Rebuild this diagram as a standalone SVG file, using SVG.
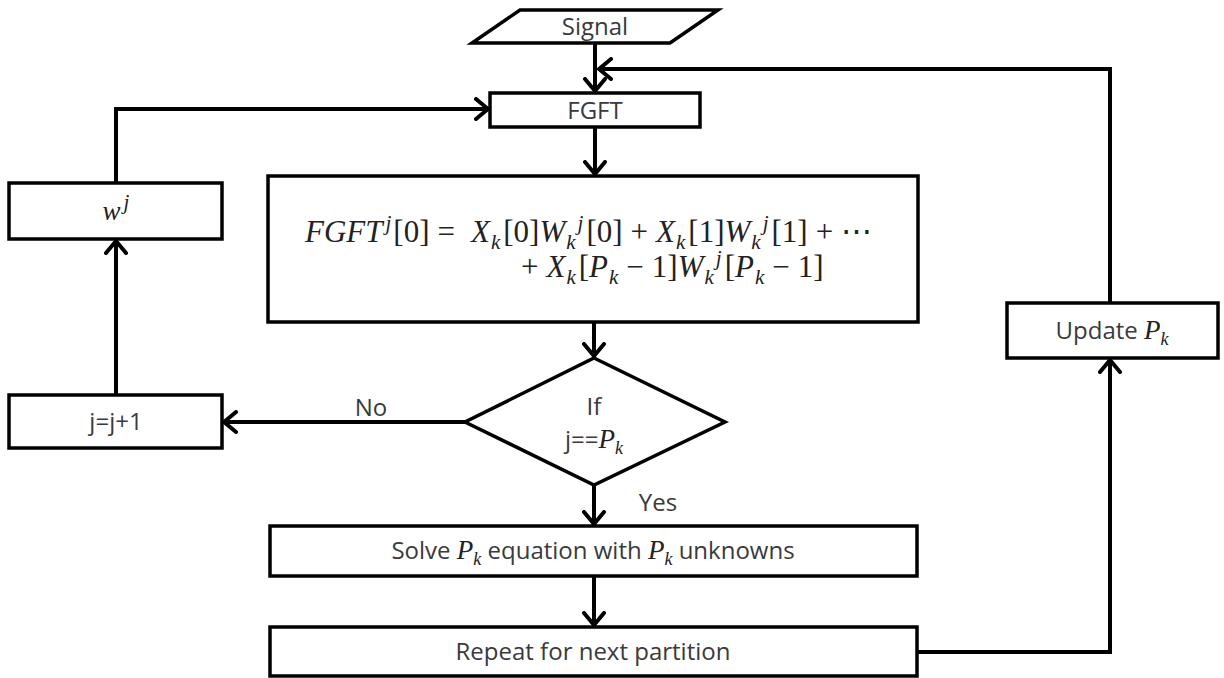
<svg xmlns="http://www.w3.org/2000/svg" width="1224" height="678" viewBox="0 0 1224 678">
<defs>
<marker id="arr" viewBox="0 0 16 24" refX="14" refY="12" markerWidth="16" markerHeight="24" markerUnits="userSpaceOnUse" orient="auto">
<path d="M2,2 L14,12 L2,22" fill="none" stroke="#000" stroke-width="4" stroke-linecap="round" stroke-linejoin="round"/>
</marker>
<style>
.box{fill:#fff;stroke:#000;stroke-width:3.5}
.con{fill:none;stroke:#000;stroke-width:4}
.t{font-family:"Open Sans","Liberation Sans",sans-serif;font-size:24px;fill:#3a3a3a;text-anchor:middle}
.m{font-family:"Liberation Serif","DejaVu Serif",serif;font-size:31px;fill:#222}
.i{font-style:italic}
.s{font-size:21px;font-style:italic}
.mi{font-family:"Liberation Serif","DejaVu Serif",serif;font-style:italic;font-size:27px;fill:#222}
.ms{font-family:"Liberation Serif","DejaVu Serif",serif;font-style:italic;font-size:18px;fill:#222}
</style>
</defs>
<rect width="1224" height="678" fill="#fff"/>
<g id="connectors">
<path class="con" d="M595,43 V91" marker-end="url(#arr)"/>
<path class="con" d="M1110,303 V69 H599" marker-end="url(#arr)"/>
<path class="con" d="M595,127 V174" marker-end="url(#arr)"/>
<path class="con" d="M594,322 V356" marker-end="url(#arr)"/>
<path class="con" d="M465,422 H224" marker-end="url(#arr)"/>
<path class="con" d="M116,395 V241" marker-end="url(#arr)"/>
<path class="con" d="M116,183 V109 H488" marker-end="url(#arr)"/>
<path class="con" d="M594,485 V524" marker-end="url(#arr)"/>
<path class="con" d="M594,576 V625" marker-end="url(#arr)"/>
<path class="con" d="M917,652 H1110 V360" marker-end="url(#arr)"/>
</g>
<g id="signal">
<polygon class="box" points="520,10 718,10 670,43 472,43"/>
<text class="t" x="595" y="35">Signal</text>
</g>
<g id="fgft">
<rect class="box" x="490" y="93" width="210" height="34"/>
<text class="t" x="595" y="119">FGFT</text>
</g>
<g id="formula">
<rect class="box" x="268" y="176" width="650" height="146"/>
<text class="m" x="305" y="242"><tspan class="i">FGFT</tspan><tspan class="s" dx="3" dy="-12">j</tspan><tspan dx="2" dy="12">[0]</tspan><tspan dx="8">=</tspan><tspan dx="16" class="i">X</tspan><tspan class="s" dx="1" dy="7">k</tspan><tspan dx="3" dy="-7">[0]</tspan><tspan class="i">W</tspan><tspan class="s" dx="1" dy="7">k</tspan><tspan class="s" dx="2" dy="-19">j</tspan><tspan dx="3" dy="12">[0]</tspan><tspan dx="8">+</tspan><tspan dx="8" class="i">X</tspan><tspan class="s" dx="1" dy="7">k</tspan><tspan dx="3" dy="-7">[1]</tspan><tspan class="i">W</tspan><tspan class="s" dx="1" dy="7">k</tspan><tspan class="s" dx="2" dy="-19">j</tspan><tspan dx="3" dy="12">[1]</tspan><tspan dx="8">+</tspan><tspan dx="8">⋯</tspan></text>
<text class="m" x="521" y="277"><tspan>+</tspan><tspan dx="8" class="i">X</tspan><tspan class="s" dx="1" dy="7">k</tspan><tspan dx="3" dy="-7">[</tspan><tspan class="i">P</tspan><tspan class="s" dx="1" dy="7">k</tspan><tspan dx="8" dy="-7">−</tspan><tspan dx="8">1]</tspan><tspan class="i">W</tspan><tspan class="s" dx="1" dy="7">k</tspan><tspan class="s" dx="2" dy="-19">j</tspan><tspan dx="3" dy="12">[</tspan><tspan class="i">P</tspan><tspan class="s" dx="1" dy="7">k</tspan><tspan dx="8" dy="-7">−</tspan><tspan dx="8">1]</tspan></text>
</g>
<g id="wj">
<rect class="box" x="9" y="183" width="213" height="56"/>
<text class="mi" x="116" y="220" text-anchor="middle">w<tspan class="s" dx="3" dy="-11">j</tspan></text>
</g>
<g id="jinc">
<rect class="box" x="9" y="395" width="213" height="53"/>
<text class="t" x="116" y="430">j=j+1</text>
</g>
<g id="decision">
<polygon class="box" points="594,358 725,422 594,485 465,422"/>
<text class="t" x="594" y="415">If</text>
<text class="t" x="594" y="448">j==<tspan class="mi">P</tspan><tspan class="ms" dy="6">k</tspan></text>
</g>
<g id="labels">
<text class="t" x="371" y="416">No</text>
<text class="t" x="658" y="511">Yes</text>
</g>
<g id="solve">
<rect class="box" x="270" y="526" width="647" height="50"/>
<text class="t" x="593" y="559">Solve <tspan class="mi">P</tspan><tspan class="ms" dy="6">k</tspan><tspan dy="-6"> equation with </tspan><tspan class="mi">P</tspan><tspan class="ms" dy="6">k</tspan><tspan dy="-6"> unknowns</tspan></text>
</g>
<g id="repeat">
<rect class="box" x="270" y="627" width="647" height="49"/>
<text class="t" x="593" y="660">Repeat for next partition</text>
</g>
<g id="update">
<rect class="box" x="1007" y="303" width="211" height="55"/>
<text class="t" x="1112" y="339">Update <tspan class="mi">P</tspan><tspan class="ms" dy="6">k</tspan></text>
</g>
</svg>
